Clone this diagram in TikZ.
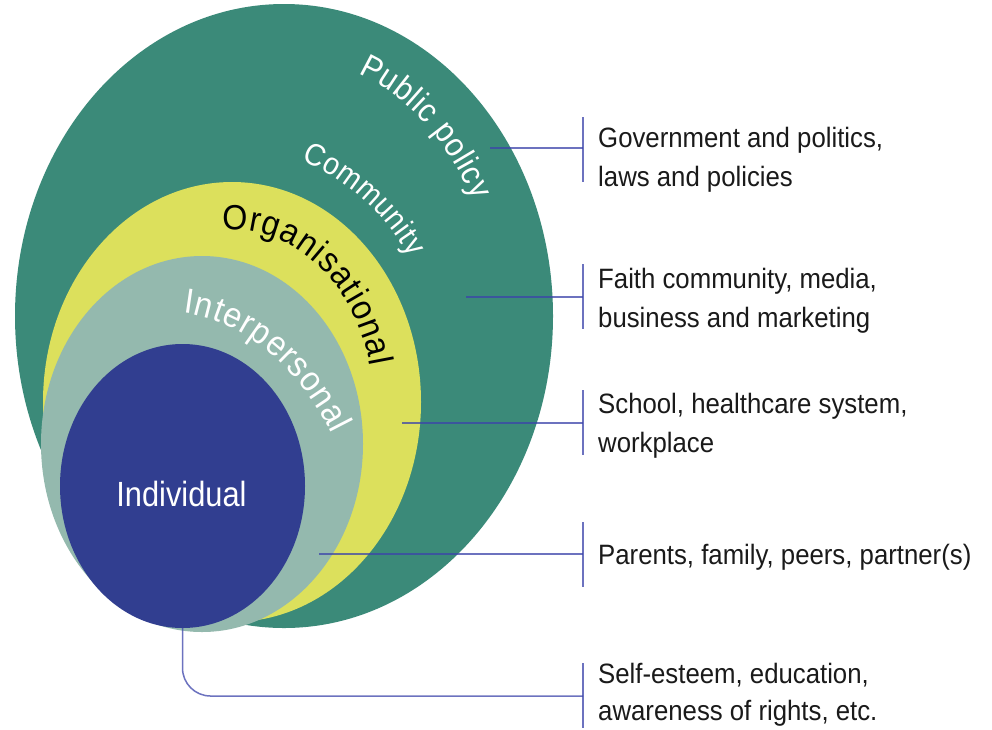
\documentclass[tikz,border=0pt]{standalone}
\usepackage{fontspec}
\setmainfont{Liberation Sans}
\newfontfamily\condfont{Liberation Sans}[FakeStretch=0.92]
\newfontfamily\indfont{Liberation Sans}[FakeStretch=0.88]
\usetikzlibrary{shapes.geometric,decorations.text}
\definecolor{cPub}{HTML}{3B8A79}
\definecolor{cOrg}{HTML}{DCE05C}
\definecolor{cInt}{HTML}{94B9AE}
\definecolor{cInd}{HTML}{313E90}
\definecolor{cLine}{RGB}{60,68,170}
\definecolor{cText}{HTML}{1A1A1A}
\begin{document}
\begin{tikzpicture}[x=1pt,y=-1pt,
  layer/.style={ellipse,inner sep=0pt,draw=none},
  conn/.style={draw=cLine,line width=1.5pt,draw opacity=0.75},
  lbl/.style={anchor=base west,inner sep=0pt,font=\condfont\fontsize{28}{34}\selectfont,text=cText},
  curvelbl/.style={decorate,decoration={text along path,text align={fit to path},text color=#1}}]
\fill[white] (0,0) rectangle (992,729);
\useasboundingbox (0,0) rectangle (992,729);
% layers
\node[layer,fill=cPub,minimum width=538pt,minimum height=624pt] (pub) at (284,316) {};
\node[layer,fill=cOrg,minimum width=378pt,minimum height=440pt] (org) at (232,402) {};
\node[layer,fill=cInt,minimum width=322pt,minimum height=376pt] (inter) at (202,444) {};
\node[layer,fill=cInd,minimum width=245pt,minimum height=284pt] (ind) at (182.5,486) {};
% curved labels
\path[curvelbl=white,decoration={text={|\condfont\fontsize{33}{33}\selectfont|Public policy}}]
  (284,316) ++(69.5:211pt and 259pt) arc[start angle=69.5,end angle=26.4,x radius=211pt,y radius=259pt];
\path[curvelbl=white,decoration={text={|\condfont\fontsize{31}{31}\selectfont|Community}}]
  (232,402) ++(71.4:216pt and 255pt) arc[start angle=71.4,end angle=34.5,x radius=216pt,y radius=255pt];
\path[curvelbl=black,decoration={text={|\condfont\fontsize{35}{35}\selectfont|Organisational}}]
  (232,402) ++(94:141pt and 172pt) arc[start angle=94,end angle=12,x radius=141pt,y radius=172pt];
\path[curvelbl=white,decoration={text={|\condfont\fontsize{35}{35}\selectfont|Interpersonal}}]
  (183,313) .. controls (245,320) and (300,370) .. (332,434);
\node[font=\indfont\fontsize{35}{40}\selectfont,text=white,anchor=base,inner sep=0pt] (indl) at (181.5,506) {Individual};
% connector coordinates
\coordinate (c1) at (490,148);
\coordinate (c2) at (466,297);
\coordinate (c3) at (402,423);
\coordinate (c4) at (319,554);
\coordinate (b1) at (583,148);
\coordinate (b2) at (583,297);
\coordinate (b3) at (583,423);
\coordinate (b4) at (583,554);
\coordinate (b5) at (583,696);
\coordinate (b1t) at (583,117); \coordinate (b1b) at (583,182);
\coordinate (b2t) at (583,264); \coordinate (b2b) at (583,329);
\coordinate (b3t) at (583,390); \coordinate (b3b) at (583,455);
\coordinate (b4t) at (583,522); \coordinate (b4b) at (583,587);
\coordinate (b5t) at (583,663); \coordinate (b5b) at (583,728);
% connectors
\draw[conn] (c1) -- (b1);
\draw[conn] (c2) -- (b2);
\draw[conn] (c3) -- (b3);
\draw[conn] (c4) -- (b4);
\draw[conn,rounded corners=28pt] (ind.south) |- (b5);
\draw[conn] (b1t) -- (b1b);
\draw[conn] (b2t) -- (b2b);
\draw[conn] (b3t) -- (b3b);
\draw[conn] (b4t) -- (b4b);
\draw[conn] (b5t) -- (b5b);
% texts
\node[lbl] (t1a) at (598,147) {Government and politics,};
\node[lbl] (t1b) at (598,186) {laws and policies};
\node[lbl] (t2a) at (598,288) {Faith community, media,};
\node[lbl] (t2b) at (598,327) {business and marketing};
\node[lbl] (t3a) at (598,413) {School, healthcare system,};
\node[lbl] (t3b) at (598,452) {workplace};
\node[lbl] (t4a) at (598,564) {Parents, family, peers, partner(s)};
\node[lbl] (t5a) at (598,683) {Self-esteem, education,};
\node[lbl] (t5b) at (598,720) {awareness of rights, etc.};
\end{tikzpicture}
\end{document}
